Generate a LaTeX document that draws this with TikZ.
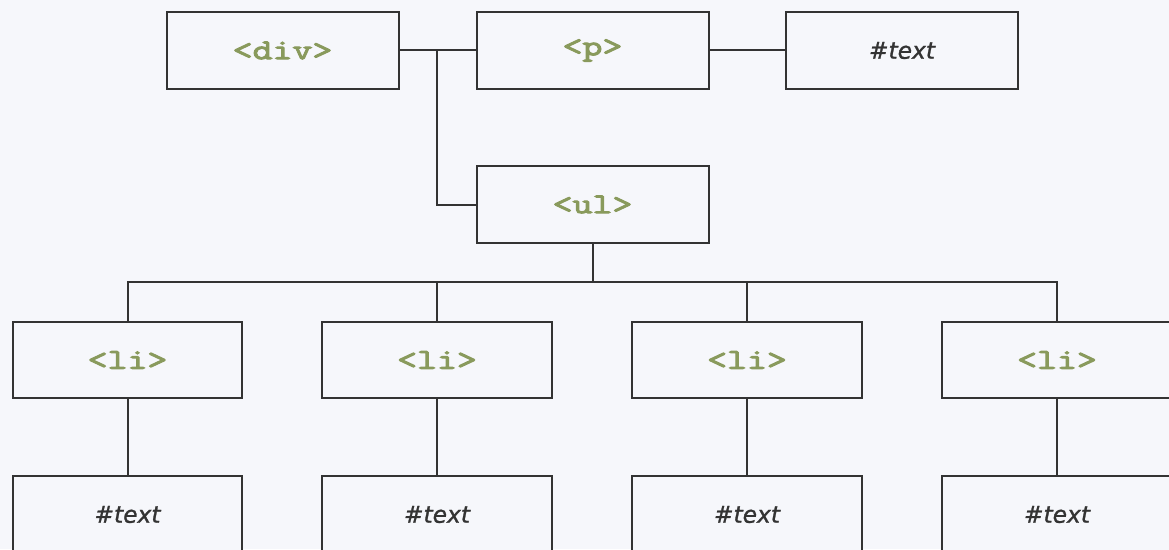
\documentclass[tikz,border=0pt]{standalone}
\usepackage{fontspec}
\setmainfont{DejaVu Sans}
\newfontfamily\tagfont[FakeStretch=1.35,FakeBold=3.5]{Latin Modern Mono}
\newfontfamily\txtfont[FakeBold=1.2]{DejaVu Sans Oblique}
\definecolor{bg}{HTML}{F6F7FB}
\definecolor{tag}{HTML}{899A5C}
\definecolor{ln}{HTML}{333333}
\begin{document}
\begin{tikzpicture}[x=0.75pt,y=-0.75pt,
  box/.style={draw=ln,line width=1.5pt,fill=bg,minimum width=174pt,minimum height=57.5pt,inner sep=0pt,anchor=center},
  tagbox/.style={box,font=\tagfont\fontsize{21.5}{24}\selectfont,text=tag},
  txtbox/.style={box,font=\txtfont\fontsize{17.5}{21}\selectfont,text=ln},
  link/.style={draw=ln,line width=1.5pt}]
\fill[bg] (0,0) rectangle (1169,549);
\useasboundingbox (0,0) rectangle (1169,549);
\node[tagbox] (div) at (282.5,50.5) {<div>};
\node[tagbox] (p) at (592.5,50.5) {<p>};
\node[txtbox] (pt) at (902,50.5) {\#text};
\node[tagbox] (ul) at (592.5,204.5) {<ul>};
\foreach \i/\x in {1/127.5,2/437,3/747,4/1057}{
  \node[tagbox,minimum width=172pt] (li\i) at (\x,360) {<li>};
  \node[txtbox,minimum width=172pt] (t\i) at (\x,514.5) {\#text};
}
\coordinate (j1) at (437,50.5);
\coordinate (j2) at (592.5,282);
\draw[link] (div.east) -- (p.west);
\draw[link] (p.east) -- (pt.west);
\draw[link] (j1) |- (ul.west);
\draw[link] (ul.south) -- (j2);
\draw[link] (li1.north) |- (j2) -| (li4.north);
\draw[link] (li2.north) -- (li2.north |- j2);
\draw[link] (li3.north) -- (li3.north |- j2);
\foreach \i in {1,2,3,4}{\draw[link] (li\i.south) -- (t\i.north);}
\end{tikzpicture}
\end{document}
